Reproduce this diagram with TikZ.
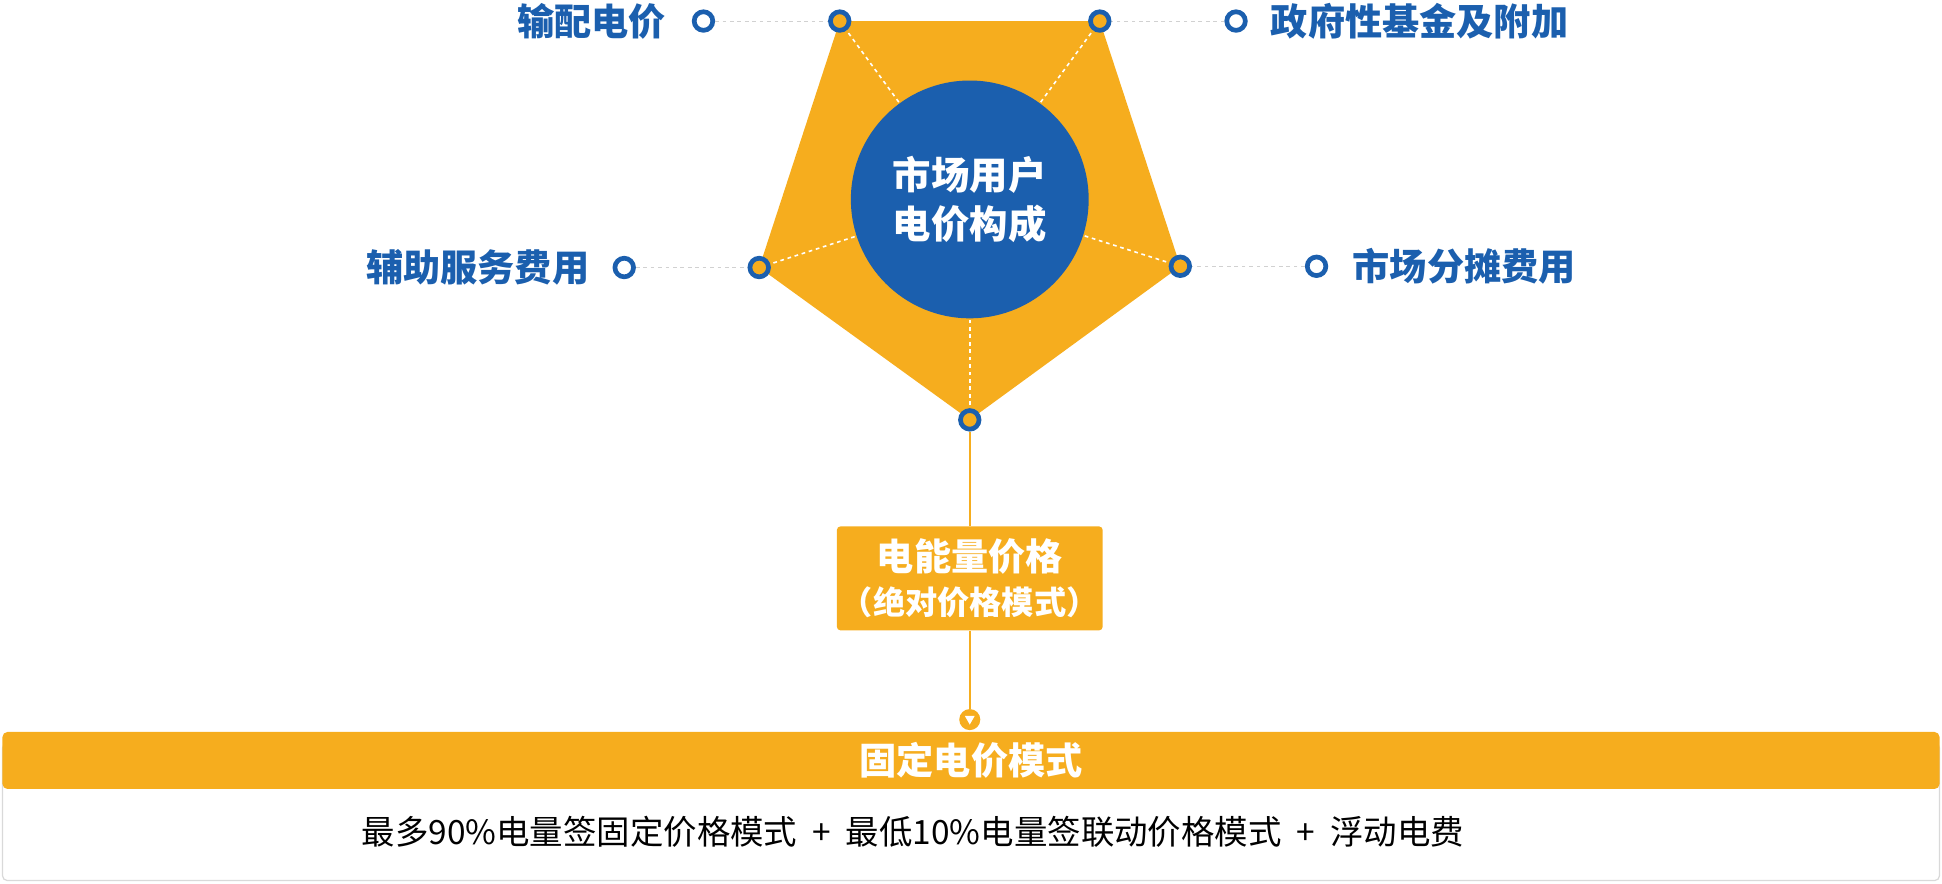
\documentclass[tikz,border=0pt]{standalone}
\usepackage{fontspec}
\setmainfont{Noto Sans CJK SC}
\begin{document}
\begin{tikzpicture}[x=1pt,y=-1pt,
  dot/.style={circle,draw=myblue,line width=3.8pt,minimum size=15pt,inner sep=0pt},
  vdot/.style={dot,fill=myorange},
  odot/.style={dot,fill=white},
  gline/.style={draw=black!18,dashed,line width=0.8pt},
  wline/.style={draw=white,dashed,line width=1.3pt},
  lbl/.style={text=myblue,font=\bfseries\fontsize{30}{34}\selectfont,inner sep=0pt}]
\definecolor{myorange}{HTML}{F6AD1E}
\definecolor{myblue}{HTML}{1B5FAE}
\useasboundingbox (0,0) rectangle (1568,713);
% pentagon
\coordinate (TL) at (678,17); \coordinate (TR) at (888,17);
\coordinate (R) at (953,215); \coordinate (B) at (783,339); \coordinate (L) at (613,216);
\fill[myorange] (TL) -- (TR) -- (R) -- (B) -- (L) -- cycle;
\coordinate (C) at (783,161);
\foreach \v in {TL,TR,R,B,L} \draw[wline] (\v) -- (C);
\node[circle,fill=myblue,minimum size=192pt,inner sep=0pt,text=white,align=center,
  font=\bfseries\fontsize{31}{40}\selectfont] (circ) at (C) {市场用户\\电价构成};
% outer dots
\node[odot] (o1) at (568,17) {};
\node[odot] (o2) at (998,17) {};
\node[odot] (o3) at (504,216) {};
\node[odot] (o4) at (1063,215) {};
\draw[gline] (o1) -- (TL); \draw[gline] (o2) -- (TR);
\draw[gline] (o3) -- (L); \draw[gline] (o4) -- (R);
\foreach \v in {TL,TR,R,B,L} \node[vdot] (d\v) at (\v) {};
\node[lbl,anchor=east] (l1) at (538,17) {输配电价};
\node[lbl,anchor=west] (l2) at (1026,17) {政府性基金及附加};
\node[lbl,anchor=east] (l3) at (476,216) {辅助服务费用};
\node[lbl,anchor=west] (l4) at (1092,215) {市场分摊费用};
% energy box
\node[fill=myorange,rounded corners=3pt,minimum width=189pt,minimum height=84pt,
  text=white,align=center,font=\bfseries\fontsize{30}{36}\selectfont] (eb) at (783,467)
  {电能量价格\\{\fontsize{26}{32}\selectfont（绝对价格模式）}};
\draw[myorange,line width=1.2pt] (dB) -- (eb.north);
\node[circle,fill=myorange,minimum size=17pt,inner sep=0pt] (arr) at (783,581) {};
\fill[white] (779,578) -- (787,578) -- (783,585) -- cycle;
\draw[myorange,line width=1.2pt] (eb.south) -- (arr.north);
% bottom
\draw[black!15,line width=1pt,fill=white,rounded corners=4pt] (2,600) rectangle (1566,711);
\node[fill=myorange,rounded corners=4pt,minimum width=1564pt,minimum height=46pt,
  text=white,font=\bfseries\fontsize{30}{34}\selectfont] (bar) at (784,614) {固定电价模式};
\node[font=\fontsize{27}{30}\selectfont,text=black] (body) at (737,672)
  {最多90\%电量签固定价格模式 \ + \ 最低10\%电量签联动价格模式 \ + \ 浮动电费};
\end{tikzpicture}
\end{document}
